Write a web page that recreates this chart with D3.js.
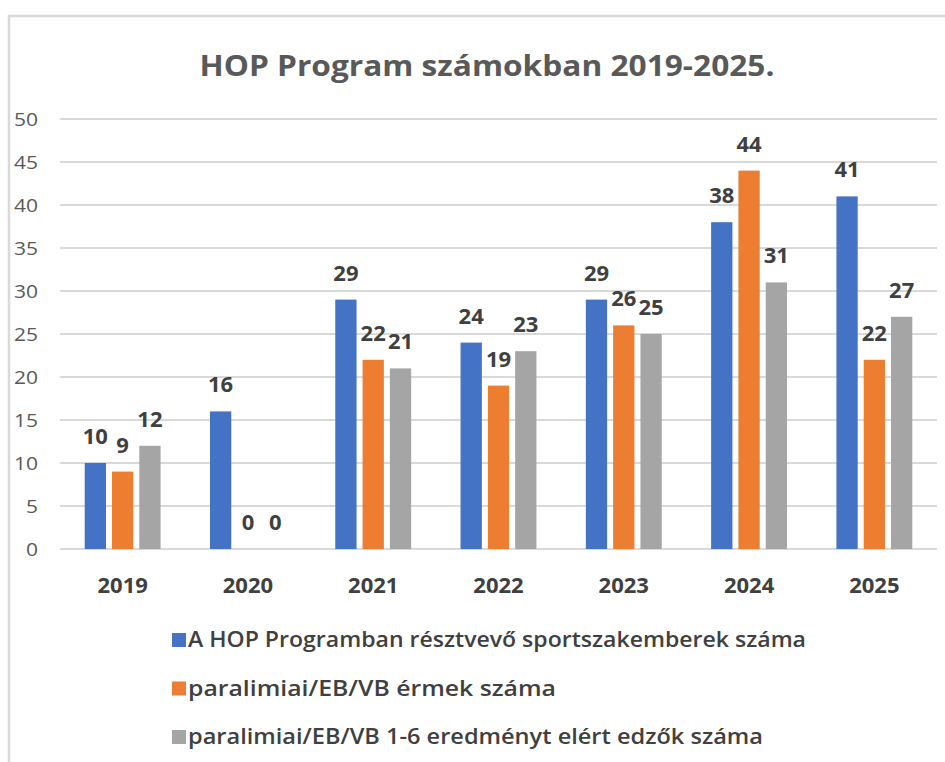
<!DOCTYPE html>
<html>
<head>
<meta charset="utf-8">
<script src="https://cdn.jsdelivr.net/npm/d3@7"></script>
<style>
  body { margin: 0; background: #fff; }
  text { font-family: "Open Sans", "DejaVu Sans", sans-serif; }
</style>
</head>
<body>
<div id="chart"></div>
<script>
const width = 945,
  height = 762,
  margin = { top: 119, bottom: 213, left: 60, right: 8 }

// data
const years = ["2019", "2020", "2021", "2022", "2023", "2024", "2025"]
const seriesNames = [
  "A HOP Programban résztvevő sportszakemberek száma",
  "paralimiai/EB/VB érmek száma",
  "paralimiai/EB/VB 1-6 eredményt elért edzők száma"
]
const participants = [10, 16, 29, 24, 29, 38, 41]
const medals = [9, 0, 22, 19, 26, 44, 22]
const results = [12, 0, 21, 23, 25, 31, 27]
const yTicks = [0, 5, 10, 15, 20, 25, 30, 35, 40, 45, 50]
const colors = ["#4472C4", "#ED7D31", "#A5A5A5"]

const series = [participants, medals, results]

const svg = d3.select("#chart")
  .append("svg")
  .attr("width", width)
  .attr("height", height)

// chart frame (only top and left edges visible in the crop)
svg.append("path")
  .attr("d", `M9,${height} L9,16 L${width},16`)
  .attr("fill", "none")
  .attr("stroke", "#d9d9d9")
  .attr("stroke-width", 2.5)

svg.append("text")
  .attr("x", 487)
  .attr("y", 76)
  .attr("text-anchor", "middle")
  .attr("fill", "#595959")
  .attr("font-size", 29)
  .attr("font-weight", 700)
  .attr("textLength", 575)
  .attr("lengthAdjust", "spacingAndGlyphs")
  .text("HOP Program számokban 2019-2025.")

const x = d3.scaleBand()
  .domain(years)
  .range([margin.left, width - margin.right])

const x1 = d3.scaleBand()
  .domain(d3.range(series.length))
  .range([0, x.bandwidth()])
  .paddingInner(0.22)
  .paddingOuter(0.905)

const y = d3.scaleLinear()
  .domain([0, 50])
  .range([height - margin.bottom, margin.top])

// gridlines
svg.append("g")
  .selectAll("line")
  .data(yTicks)
  .join("line")
  .attr("x1", margin.left)
  .attr("x2", width - margin.right)
  .attr("y1", d => y(d))
  .attr("y2", d => y(d))
  .attr("stroke", "#d9d9d9")
  .attr("stroke-width", 2)

// y labels
svg.append("g")
  .selectAll("text")
  .data(yTicks)
  .join("text")
  .attr("x", 38)
  .attr("y", d => y(d) + 7)
  .attr("text-anchor", "end")
  .attr("fill", "#595959")
  .attr("font-size", 19)
  .attr("textLength", d => String(d).length * 12)
  .attr("lengthAdjust", "spacingAndGlyphs")
  .text(d => d)

// x labels
svg.append("g")
  .selectAll("text")
  .data(years)
  .join("text")
  .attr("x", d => x(d) + x.bandwidth() / 2)
  .attr("y", 593)
  .attr("text-anchor", "middle")
  .attr("fill", "#404040")
  .attr("font-size", 22)
  .attr("font-weight", 700)
  .text(d => d)

// bars
const groups = svg.append("g")
  .selectAll("g")
  .data(years)
  .join("g")
  .attr("transform", d => `translate(${x(d)},0)`)

groups.selectAll("rect")
  .data((d, i) => series.map((s, k) => ({ k: k, v: s[i] })))
  .join("rect")
  .attr("x", d => x1(d.k))
  .attr("width", x1.bandwidth())
  .attr("y", d => y(d.v))
  .attr("height", d => y(0) - y(d.v))
  .attr("fill", d => colors[d.k])

groups.selectAll("text")
  .data((d, i) => series.map((s, k) => ({ k: k, v: s[i] })))
  .join("text")
  .attr("x", d => x1(d.k) + x1.bandwidth() / 2)
  .attr("y", d => y(d.v) - 19)
  .attr("text-anchor", "middle")
  .attr("fill", "#404040")
  .attr("font-size", 22)
  .attr("font-weight", 700)
  .text(d => d.v)

// legend
const legendTextWidths = [618, 368, 575]
const legend = svg.append("g")
  .selectAll("g")
  .data(seriesNames)
  .join("g")
  .attr("transform", (d, i) => `translate(172,${633 + i * 48.5})`)

legend.append("rect")
  .attr("width", 14)
  .attr("height", 14)
  .attr("fill", (d, i) => colors[i])

legend.append("text")
  .attr("x", 16)
  .attr("y", 14)
  .attr("fill", "#404040")
  .attr("font-size", 21)
  .attr("font-weight", 600)
  .attr("textLength", (d, i) => legendTextWidths[i])
  .attr("lengthAdjust", "spacingAndGlyphs")
  .text(d => d)
</script>
</body>
</html>
